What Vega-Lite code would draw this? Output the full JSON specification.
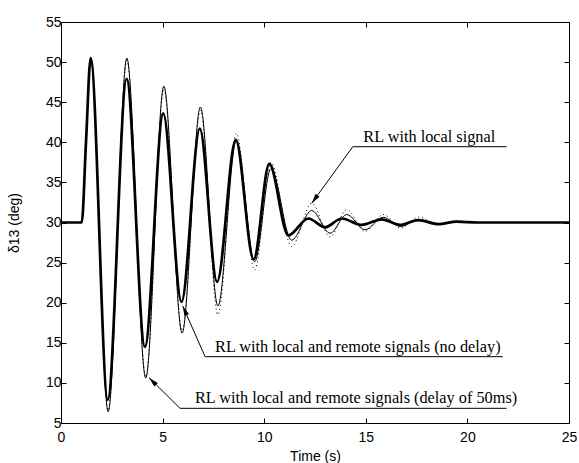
{
  "$schema": "https://vega.github.io/schema/vega-lite/v6.json",
  "width": 508,
  "height": 401,
  "autosize": {"type": "none"},
  "padding": {"left": 61, "top": 22, "right": 10, "bottom": 40},
  "background": "white",
  "config": {
    "view": {"stroke": null},
    "axis": {
      "domainColor": "black", "domainWidth": 1, "tickColor": "black", "tickWidth": 1, "tickSize": -5,
      "grid": false, "labelFont": "Liberation Sans", "labelFontSize": 14, "labelColor": "black",
      "titleFont": "Liberation Sans", "titleFontSize": 14, "titleFontWeight": "normal", "titleColor": "black",
      "labelFlush": false
    }
  },
  "datasets": {
    "curves": [
      {"s": "local", "t": 0, "v": 30}, {"s": "local", "t": 1.02, "v": 30}, {"s": "local", "t": 1.23, "v": 40},
      {"s": "local", "t": 1.46, "v": 50.5}, {"s": "local", "t": 2.32, "v": 6.6}, {"s": "local", "t": 3.24, "v": 50.2},
      {"s": "local", "t": 4.17, "v": 10.8}, {"s": "local", "t": 5.06, "v": 46.5}, {"s": "local", "t": 5.96, "v": 16.5},
      {"s": "local", "t": 6.86, "v": 44.0}, {"s": "local", "t": 7.72, "v": 18.5}, {"s": "local", "t": 8.63, "v": 41.1},
      {"s": "local", "t": 9.53, "v": 24.1}, {"s": "local", "t": 10.33, "v": 37.5}, {"s": "local", "t": 11.35, "v": 27.0},
      {"s": "local", "t": 12.34, "v": 32.4}, {"s": "local", "t": 13.24, "v": 28.2}, {"s": "local", "t": 14.06, "v": 31.6},
      {"s": "local", "t": 14.96, "v": 28.9}, {"s": "local", "t": 15.86, "v": 31.0}, {"s": "local", "t": 16.72, "v": 29.3},
      {"s": "local", "t": 17.6, "v": 30.7}, {"s": "local", "t": 18.6, "v": 29.7}, {"s": "local", "t": 19.5, "v": 30.2},
      {"s": "local", "t": 20.5, "v": 30}, {"s": "local", "t": 25, "v": 30},

      {"s": "delay50", "t": 0, "v": 30}, {"s": "delay50", "t": 1.02, "v": 30}, {"s": "delay50", "t": 1.23, "v": 40},
      {"s": "delay50", "t": 1.46, "v": 50.5}, {"s": "delay50", "t": 2.32, "v": 6.4}, {"s": "delay50", "t": 3.24, "v": 50.5},
      {"s": "delay50", "t": 4.17, "v": 10.6}, {"s": "delay50", "t": 5.06, "v": 47.0}, {"s": "delay50", "t": 5.96, "v": 16.2},
      {"s": "delay50", "t": 6.86, "v": 44.4}, {"s": "delay50", "t": 7.72, "v": 19.6}, {"s": "delay50", "t": 8.63, "v": 40.2},
      {"s": "delay50", "t": 9.53, "v": 25.1}, {"s": "delay50", "t": 10.33, "v": 36.7}, {"s": "delay50", "t": 11.35, "v": 27.8},
      {"s": "delay50", "t": 12.34, "v": 31.5}, {"s": "delay50", "t": 13.24, "v": 28.65}, {"s": "delay50", "t": 14.06, "v": 31.0},
      {"s": "delay50", "t": 14.96, "v": 29.1}, {"s": "delay50", "t": 15.86, "v": 30.65}, {"s": "delay50", "t": 16.72, "v": 29.5},
      {"s": "delay50", "t": 17.6, "v": 30.4}, {"s": "delay50", "t": 18.6, "v": 29.8}, {"s": "delay50", "t": 19.5, "v": 30.1},
      {"s": "delay50", "t": 20.5, "v": 30}, {"s": "delay50", "t": 25, "v": 30},

      {"s": "nodelay", "t": 0, "v": 30}, {"s": "nodelay", "t": 1.02, "v": 30}, {"s": "nodelay", "t": 1.23, "v": 40},
      {"s": "nodelay", "t": 1.46, "v": 50.5}, {"s": "nodelay", "t": 2.30, "v": 7.9}, {"s": "nodelay", "t": 3.23, "v": 47.9},
      {"s": "nodelay", "t": 4.13, "v": 14.5}, {"s": "nodelay", "t": 5.03, "v": 43.6}, {"s": "nodelay", "t": 5.93, "v": 20.1},
      {"s": "nodelay", "t": 6.83, "v": 41.7}, {"s": "nodelay", "t": 7.68, "v": 22.6}, {"s": "nodelay", "t": 8.6, "v": 40.3},
      {"s": "nodelay", "t": 9.48, "v": 25.4}, {"s": "nodelay", "t": 10.25, "v": 37.3}, {"s": "nodelay", "t": 11.19, "v": 28.4},
      {"s": "nodelay", "t": 12.17, "v": 30.5}, {"s": "nodelay", "t": 13.0, "v": 29.4}, {"s": "nodelay", "t": 13.81, "v": 30.5},
      {"s": "nodelay", "t": 14.8, "v": 29.7}, {"s": "nodelay", "t": 15.78, "v": 30.4}, {"s": "nodelay", "t": 16.68, "v": 29.7},
      {"s": "nodelay", "t": 17.58, "v": 30.3}, {"s": "nodelay", "t": 18.57, "v": 29.8}, {"s": "nodelay", "t": 19.47, "v": 30.1},
      {"s": "nodelay", "t": 20.5, "v": 30}, {"s": "nodelay", "t": 25, "v": 30}
    ],
    "notes": [
      {"note": "RL with local signal", "tipT": 12.34, "tipV": 32.4, "elbowT": 14.36, "lineV": 39.45, "endT": 21.93, "textT": 14.88},
      {"note": "RL with local and remote signals (no delay)", "tipT": 5.99, "tipV": 19.6, "elbowT": 7.09, "lineV": 13.27, "endT": 21.74, "textT": 7.58},
      {"note": "RL with local and remote signals (delay of 50ms)", "tipT": 4.33, "tipV": 10.65, "elbowT": 5.86, "lineV": 6.83, "endT": 21.93, "textT": 6.59}
    ]
  },
  "layer": [
    {
      "data": {"name": "curves"},
      "transform": [{"filter": "datum.s === 'local'"}],
      "mark": {"type": "line", "interpolate": "monotone", "color": "black", "strokeWidth": 1, "strokeDash": [1, 3]},
      "encoding": {
        "x": {"field": "t", "type": "quantitative", "scale": {"domain": [0, 25], "nice": false},
              "axis": {"values": [0, 5, 10, 15, 20, 25], "title": "Time (s)", "labelPadding": 12, "titlePadding": 5}},
        "y": {"field": "v", "type": "quantitative", "scale": {"domain": [5, 55], "nice": false, "zero": false},
              "axis": {"values": [5, 10, 15, 20, 25, 30, 35, 40, 45, 50, 55], "title": "δ13 (deg)", "labelPadding": 5, "titlePadding": 24}}
      }
    },
    {
      "data": {"name": "curves"},
      "transform": [{"filter": "datum.s === 'delay50'"}],
      "mark": {"type": "line", "interpolate": "monotone", "color": "black", "strokeWidth": 1},
      "encoding": {
        "x": {"field": "t", "type": "quantitative", "axis": null},
        "y": {"field": "v", "type": "quantitative", "axis": null}
      }
    },
    {
      "data": {"name": "curves"},
      "transform": [{"filter": "datum.s === 'nodelay'"}],
      "mark": {"type": "line", "interpolate": "monotone", "color": "black", "strokeWidth": 2.7},
      "encoding": {
        "x": {"field": "t", "type": "quantitative", "axis": null},
        "y": {"field": "v", "type": "quantitative", "axis": null}
      }
    },
    {
      "data": {"name": "notes"},
      "mark": {"type": "rule", "color": "black", "strokeWidth": 1},
      "encoding": {
        "x": {"field": "elbowT", "type": "quantitative", "axis": null},
        "x2": {"field": "endT"},
        "y": {"field": "lineV", "type": "quantitative", "axis": null}
      }
    },
    {
      "data": {"name": "notes"},
      "mark": {"type": "rule", "color": "black", "strokeWidth": 1},
      "encoding": {
        "x": {"field": "tipT", "type": "quantitative", "axis": null},
        "x2": {"field": "elbowT"},
        "y": {"field": "tipV", "type": "quantitative", "axis": null},
        "y2": {"field": "lineV"}
      }
    },
    {
      "data": {"name": "notes"},
      "transform": [{"filter": "datum.note === 'RL with local signal'"}],
      "mark": {"type": "point", "filled": true, "color": "black", "opacity": 1, "size": 81, "angle": 215.9, "shape": "M0,0L-0.55,2.2L0.55,2.2Z"},
      "encoding": {
        "x": {"field": "tipT", "type": "quantitative", "axis": null},
        "y": {"field": "tipV", "type": "quantitative", "axis": null}
      }
    },
    {
      "data": {"name": "notes"},
      "transform": [{"filter": "datum.note === 'RL with local and remote signals (no delay)'"}],
      "mark": {"type": "point", "filled": true, "color": "black", "opacity": 1, "size": 81, "angle": 336.3, "shape": "M0,0L-0.55,2.2L0.55,2.2Z"},
      "encoding": {
        "x": {"field": "tipT", "type": "quantitative", "axis": null},
        "y": {"field": "tipV", "type": "quantitative", "axis": null}
      }
    },
    {
      "data": {"name": "notes"},
      "transform": [{"filter": "datum.note === 'RL with local and remote signals (delay of 50ms)'"}],
      "mark": {"type": "point", "filled": true, "color": "black", "opacity": 1, "size": 81, "angle": 314.6, "shape": "M0,0L-0.55,2.2L0.55,2.2Z"},
      "encoding": {
        "x": {"field": "tipT", "type": "quantitative", "axis": null},
        "y": {"field": "tipV", "type": "quantitative", "axis": null}
      }
    },
    {
      "data": {"name": "notes"},
      "mark": {"type": "text", "font": "Liberation Serif, Times New Roman, DejaVu Serif, serif", "fontSize": 16.3, "align": "left", "baseline": "alphabetic", "dy": -5, "color": "black"},
      "encoding": {
        "x": {"field": "textT", "type": "quantitative",
              "axis": {"orient": "top", "labels": false, "title": null, "values": [0, 5, 10, 15, 20, 25]}},
        "y": {"field": "lineV", "type": "quantitative",
              "axis": {"orient": "right", "labels": false, "title": null, "values": [5, 10, 15, 20, 25, 30, 35, 40, 45, 50, 55]}},
        "text": {"field": "note"}
      }
    }
  ],
  "resolve": {"axis": {"x": "independent", "y": "independent"}}
}
